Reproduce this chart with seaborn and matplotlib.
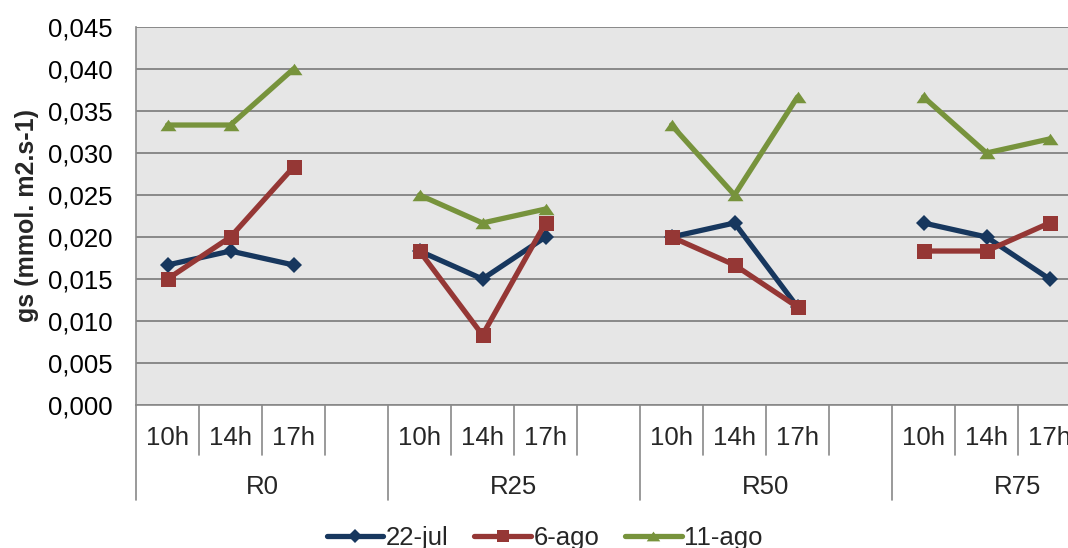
import matplotlib
matplotlib.use("Agg")
import matplotlib.pyplot as plt
from matplotlib.lines import Line2D
from matplotlib.ticker import FuncFormatter, MultipleLocator
import pandas as pd
import seaborn as sns

# ---- data -------------------------------------------------------------
groups = ["R0", "R25", "R50", "R75"]
hours = ["10h", "14h", "17h"]
series = ["22-jul", "6-ago", "11-ago"]

jul22 = [0.01667, 0.01833, 0.01667,
         0.01833, 0.01500, 0.02000,
         0.02000, 0.02167, 0.01167,
         0.02167, 0.02000, 0.01500]
ago6 = [0.01500, 0.02000, 0.02833,
        0.01833, 0.00833, 0.02167,
        0.02000, 0.01667, 0.01167,
        0.01833, 0.01833, 0.02167]
ago11 = [0.03333, 0.03333, 0.04000,
         0.02500, 0.02167, 0.02333,
         0.03333, 0.02500, 0.03667,
         0.03667, 0.03000, 0.03167]

values = {"22-jul": jul22, "6-ago": ago6, "11-ago": ago11}

# each group occupies 4 category slots (three hours plus one empty slot)
slots_per_group = 4
rows = []
for s in series:
    for gi, g in enumerate(groups):
        for hi, h in enumerate(hours):
            rows.append({
                "serie": s,
                "grupo": g,
                "hora": h,
                "x": gi * slots_per_group + hi + 0.5,
                "gs": values[s][gi * len(hours) + hi],
            })
df = pd.DataFrame(rows)

# ---- style ------------------------------------------------------------
sns.set_style("white")
plt.rcParams["font.family"] = ["Liberation Sans", "DejaVu Sans"]

colors = {"22-jul": "#17375E", "6-ago": "#953735", "11-ago": "#77933C"}
flat_triangle = [(0, 0.72), (-1, -0.72), (1, -0.72)]
markers = {"22-jul": "D", "6-ago": "s", "11-ago": flat_triangle}
msizes = {"22-jul": 7.8, "6-ago": 10.8, "11-ago": 11.5}
grid_c = "#898989"
FS = 18.5
LW = 3.8

fig = plt.figure(figsize=(10.68, 5.48), dpi=100)
n_slots = slots_per_group * len(groups)
ax = fig.add_axes([136 / 1068, 143 / 548, 1008 / 1068, 378 / 548])
ax.set_facecolor("#E6E6E6")

for s in series:
    sub = df[df["serie"] == s]
    sns.lineplot(data=sub, x="x", y="gs", units="grupo", estimator=None,
                 sort=False, color=colors[s], marker=markers[s],
                 markersize=msizes[s], markeredgewidth=0, linewidth=LW,
                 legend=False, ax=ax, zorder=3)

ax.set_xlim(0, n_slots)
ax.set_ylim(0, 0.045)
ax.yaxis.set_major_locator(MultipleLocator(0.005))
ax.yaxis.set_major_formatter(FuncFormatter(lambda v, p: f"{v:.3f}".replace(".", ",")))
ax.grid(axis="y", color=grid_c, linewidth=1.4, zorder=1)
ax.set_axisbelow(True)
ax.tick_params(axis="y", direction="out", length=6, width=1, color=grid_c,
               labelsize=FS, pad=11, labelcolor="black")
ax.set_xticks([])
ax.set_xlabel("")
ax.set_ylabel("gs (mmol. m2.s-1)", fontsize=18, fontweight="bold", labelpad=6)

for side in ["top", "right"]:
    ax.spines[side].set_visible(False)
for side in ["left", "bottom"]:
    ax.spines[side].set_color(grid_c)
    ax.spines[side].set_linewidth(1.2)

# ---- two-level category axis -----------------------------------------
trans = ax.get_xaxis_transform()
ax_h = 378.0
for b in range(n_slots + 1):
    long_line = b % slots_per_group == 0
    y_end = -(95 if long_line else 50) / ax_h
    ax.plot([b, b], [0, y_end], transform=trans, color=grid_c,
            linewidth=1.2, clip_on=False, zorder=2)

for gi, g in enumerate(groups):
    for hi, h in enumerate(hours):
        ax.text(gi * slots_per_group + hi + 0.5, -33 / ax_h, h, transform=trans,
                ha="center", va="center", fontsize=FS, clip_on=False)
    ax.text(gi * slots_per_group + slots_per_group / 2, -82 / ax_h, g,
            transform=trans, ha="center", va="center", fontsize=FS,
            clip_on=False)

# ---- legend -----------------------------------------------------------
handles = [Line2D([0], [0], color=colors[s], marker=markers[s], linewidth=LW,
                  markersize=msizes[s] * 0.85, markeredgewidth=0) for s in series]
fig.legend(handles, series, loc="center", bbox_to_anchor=(0.51, 0.018),
           ncol=3, frameon=False, fontsize=FS, handlelength=2.2,
           handletextpad=0.1, columnspacing=1.0)

fig.savefig("out.png", dpi=100)
